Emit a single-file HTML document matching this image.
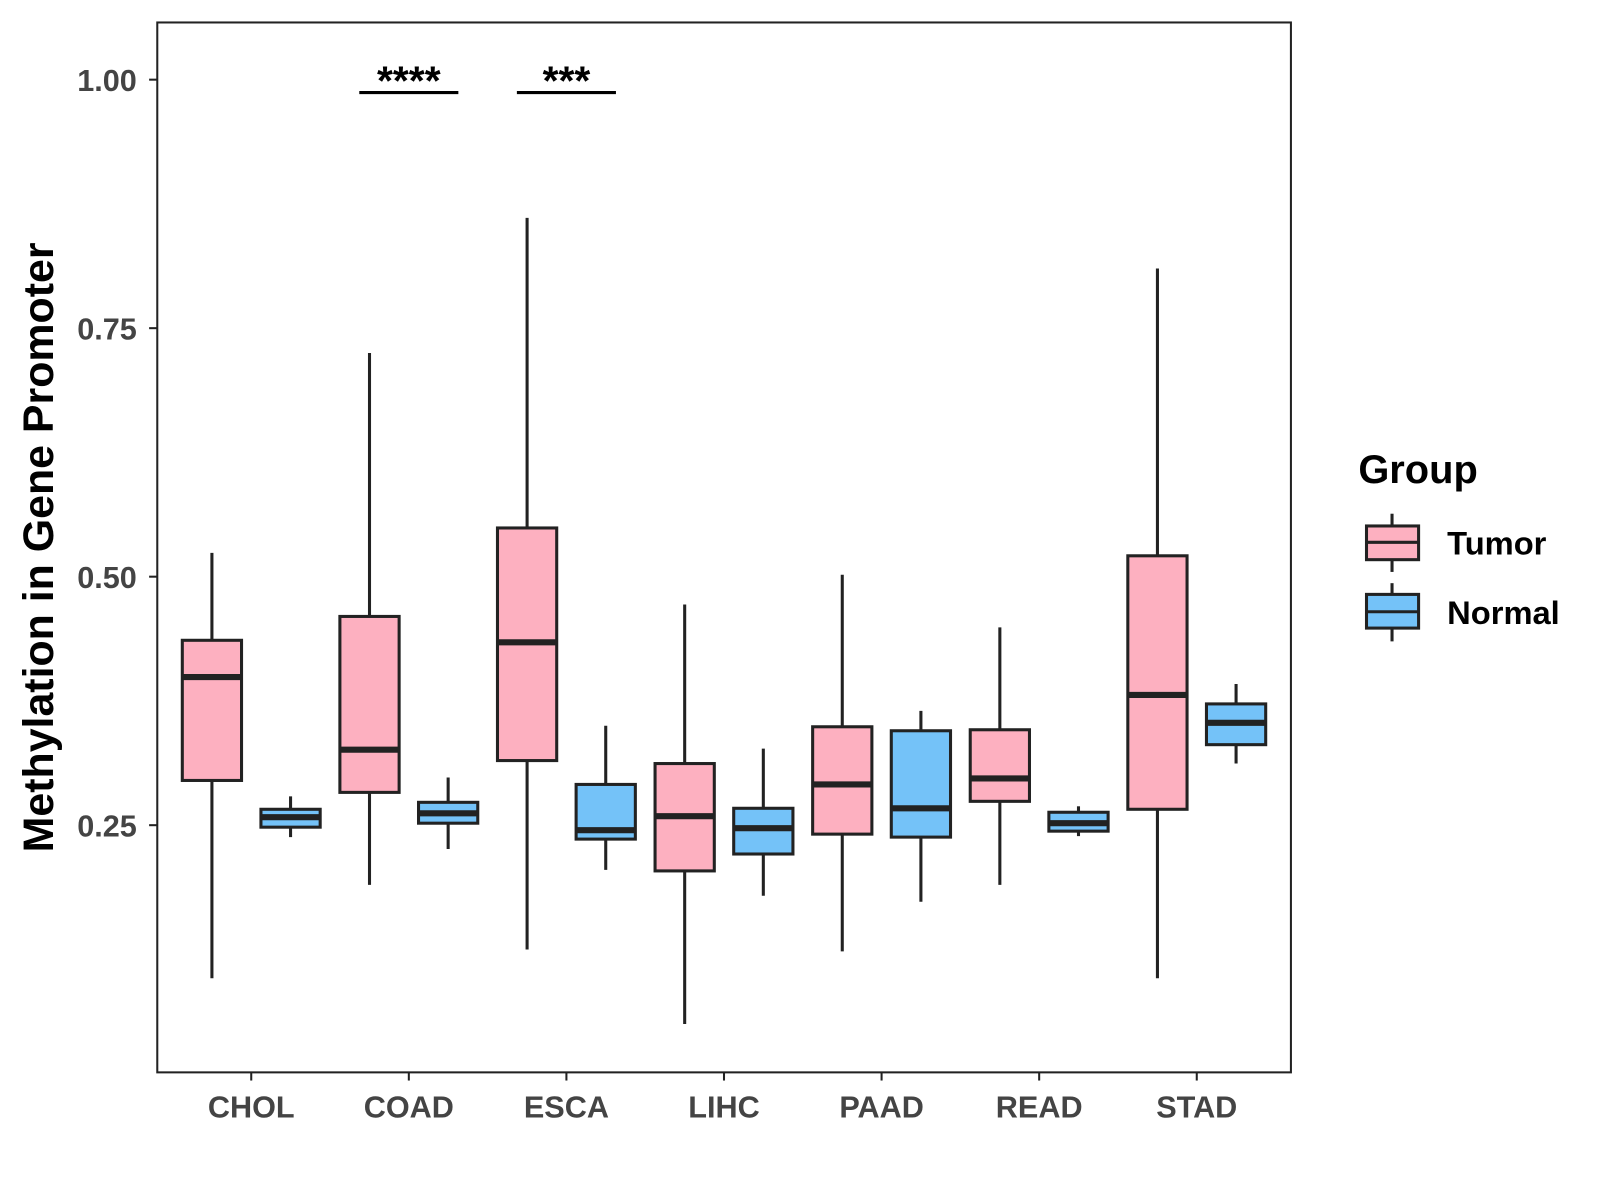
<!DOCTYPE html>
<html><head><meta charset="utf-8"><style>
html,body{margin:0;padding:0;background:#fff;}
svg{display:block;font-family:"Liberation Sans",Arial,sans-serif;}
</style></head><body>
<svg id="chart" width="1600" height="1200" viewBox="0 0 1600 1200">
<g transform="scale(1.0213)">
<rect x="154" y="22" width="1110" height="1028" fill="#fff" stroke="#222" stroke-width="2"/>
<g id="marks"></g>
<g id="axes"></g>
<text x="52" y="536" transform="rotate(-90 52 536)" text-anchor="middle" font-size="42" font-weight="bold" fill="#000">Methylation in Gene Promoter</text>
<g>
<text x="1330" y="473" font-size="39" font-weight="bold">Group</text>
<g>
<line x1="1363" y1="503" x2="1363" y2="560" stroke="#222" stroke-width="3"/>
<rect x="1338" y="515" width="51" height="33" fill="#FDB0C0" stroke="#222" stroke-width="3"/>
<line x1="1338" y1="531" x2="1389" y2="531" stroke="#222" stroke-width="3"/>
<text x="1417" y="543" font-size="32" font-weight="bold">Tumor</text></g>
<g>
<line x1="1363" y1="571" x2="1363" y2="628" stroke="#222" stroke-width="3"/>
<rect x="1338" y="582" width="51" height="33" fill="#74C2F8" stroke="#222" stroke-width="3"/>
<line x1="1338" y1="599" x2="1389" y2="599" stroke="#222" stroke-width="3"/>
<text x="1417" y="611" font-size="32" font-weight="bold">Normal</text></g>
</g>
</g>
</svg>
<script>
const categories=["CHOL","COAD","ESCA","LIHC","PAAD","READ","STAD"];
const yTicks=[0.25,0.5,0.75,1.0];
const yTickLabels=["0.25","0.50","0.75","1.00"];
// [low, q1, median, q3, high]
const tumorStats=[[0.096,0.295,0.399,0.436,0.524],[0.190,0.283,0.326,0.460,0.725],[0.125,0.315,0.434,0.549,0.861],[0.050,0.204,0.259,0.312,0.472],[0.123,0.241,0.291,0.349,0.502],[0.190,0.274,0.297,0.346,0.449],[0.096,0.266,0.381,0.521,0.810]];
const normalStats=[[0.238,0.248,0.258,0.266,0.279],[0.226,0.252,0.262,0.273,0.298],[0.205,0.236,0.245,0.291,0.350],[0.179,0.221,0.247,0.267,0.327],[0.173,0.238,0.267,0.345,0.365],[0.239,0.244,0.252,0.263,0.269],[0.312,0.331,0.353,0.372,0.392]];
const sigCats=["COAD","ESCA"];
const sigLabels=["****","***"];
const sigLevel=[0.987,0.987];

const NS="http://www.w3.org/2000/svg";
function yS(v){return 78+(1-v)*973.3;}
function xS(i){return 246+i*154.3;}
function mk(tag,attrs,parent){const e=document.createElementNS(NS,tag);for(const k in attrs)e.setAttribute(k,attrs[k]);parent.appendChild(e);return e;}
const marks=document.getElementById('marks'),axes=document.getElementById('axes');
function box(cx,s,fill,name){
  const g=mk('g',{},marks);
  
  
  mk('line',{x1:cx,x2:cx,y1:yS(s[4]),y2:yS(s[0]),stroke:'#222','stroke-width':3},g);
  mk('rect',{x:cx-29,y:yS(s[3]),width:58,height:yS(s[1])-yS(s[3]),fill:fill,stroke:'#222','stroke-width':3},g);
  mk('line',{x1:cx-29,x2:cx+29,y1:yS(s[2]),y2:yS(s[2]),stroke:'#222','stroke-width':6},g);
}
categories.forEach((c,i)=>{
  box(xS(i)-38.5,tumorStats[i],'#FDB0C0','box-tumor-'+c.toLowerCase());
  box(xS(i)+38.5,normalStats[i],'#74C2F8','box-normal-'+c.toLowerCase());
  const t=mk('line',{x1:xS(i),x2:xS(i),y1:1050,y2:1058,stroke:'#222','stroke-width':2},axes);
  
  
  const l=mk('text',{x:xS(i),y:1094,'text-anchor':'middle','font-size':30,'font-weight':'bold',fill:'#444'},axes);
  l.textContent=c;
  
  
});
yTicks.forEach((v,i)=>{
  const t=mk('line',{x1:146,x2:154,y1:yS(v),y2:yS(v),stroke:'#222','stroke-width':2},axes);
  
  
  const l=mk('text',{x:134,y:yS(v)+11,'text-anchor':'end','font-size':30,'font-weight':'bold',fill:'#444'},axes);
  l.textContent=yTickLabels[i];
  
  
});
sigCats.forEach((c,j)=>{
  const i=categories.indexOf(c);
  const g=mk('g',{},marks);
  
  
  mk('line',{x1:xS(i)-48.5,x2:xS(i)+48.5,y1:yS(sigLevel[j]),y2:yS(sigLevel[j]),stroke:'#000','stroke-width':3},g);
  const t=mk('text',{x:xS(i),y:yS(sigLevel[j])+2,'text-anchor':'middle','font-size':40,'font-weight':'bold'},g);
  t.textContent=sigLabels[j];
});
</script>
</body></html>
